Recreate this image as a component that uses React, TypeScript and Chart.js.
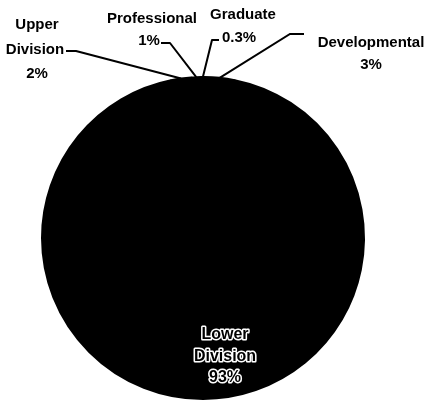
import React, { useEffect, useRef } from "react";
import { Chart, registerables } from "chart.js";

Chart.register(...registerables);

const categories = ["Developmental", "Lower Division", "Upper Division", "Professional", "Graduate"];
const shares = [3, 93, 2, 1, 0.3];
const shareLabels = ["3%", "93%", "2%", "1%", "0.3%"];

// label layout: text lines, line centres, leader line elbow
const labelLayout: Record<string, any> = {
  "Developmental": { lines: [["Developmental", 371, 43], ["3%", 371, 65]], elbow: [[304, 34], [290, 34]] },
  "Upper Division": { lines: [["Upper", 37, 25], ["Division", 35, 50], ["2%", 37, 74]], elbow: [[66, 51], [76, 51]] },
  "Professional": { lines: [["Professional", 152, 19], ["1%", 149, 41]], elbow: [[161, 43], [170, 43]] },
  "Graduate": { lines: [["Graduate", 243, 15], ["0.3%", 239, 38]], elbow: [[219, 40], [212, 40]] },
};

const FONT = "bold 15px 'Liberation Sans', sans-serif";
const INNER_FONT = "bold 16px 'Liberation Sans', sans-serif";

const labelPlugin = {
  id: "pieLabels",
  afterDatasetsDraw(chart: any) {
    const ctx = chart.ctx;
    const meta = chart.getDatasetMeta(0);
    ctx.save();
    ctx.textAlign = "center";
    ctx.textBaseline = "middle";
    meta.data.forEach((arc: any, i: number) => {
      const name = categories[i];
      const mid = (arc.startAngle + arc.endAngle) / 2;
      if (name === "Lower Division") {
        ctx.font = INNER_FONT;
        const x = arc.x + 22;
        const yBase = arc.y + 97;
        ["Lower", "Division", shareLabels[i]].forEach((t, k) => {
          const y = yBase + k * 21.5;
          ctx.lineWidth = 3;
          ctx.strokeStyle = "#ffffff";
          ctx.lineJoin = "round";
          ctx.strokeText(t, x, y);
          ctx.fillStyle = "#000000";
          ctx.fillText(t, x, y);
        });
        return;
      }
      const L = labelLayout[name];
      if (!L) return;
      ctx.font = FONT;
      ctx.fillStyle = "#000000";
      L.lines.forEach((ln: any) => ctx.fillText(ln[0], ln[1], ln[2]));
      const ex = arc.x + Math.cos(mid) * arc.outerRadius;
      const ey = arc.y + Math.sin(mid) * arc.outerRadius;
      ctx.beginPath();
      ctx.strokeStyle = "#000000";
      ctx.lineWidth = 2;
      ctx.moveTo(L.elbow[0][0], L.elbow[0][1]);
      ctx.lineTo(L.elbow[1][0], L.elbow[1][1]);
      ctx.lineTo(ex, ey);
      ctx.stroke();
    });
    ctx.restore();
  },
};

export default function App() {
  const ref = useRef<HTMLCanvasElement | null>(null);
  useEffect(() => {
    if (!ref.current) return;
    const chart = new Chart(ref.current, {
      type: "pie",
      data: {
        labels: categories,
        datasets: [
          {
            data: shares,
            backgroundColor: "#000000",
            borderColor: "#000000",
            borderWidth: 2,
          },
        ],
      },
      options: {
        animation: false,
        responsive: false,
        rotation: 0.5,
        layout: { padding: { left: 41, right: 66, top: 76, bottom: 3 } },
        plugins: { legend: { display: false }, tooltip: { enabled: false } },
      },
      plugins: [labelPlugin],
    });
    return () => chart.destroy();
  }, []);
  return (
    <div style={{ position: "fixed", left: 0, top: 0, width: 431, height: 403, background: "#fff" }}>
      <canvas ref={ref} width={431} height={403} style={{ width: 431, height: 403 }} />
    </div>
  );
}
